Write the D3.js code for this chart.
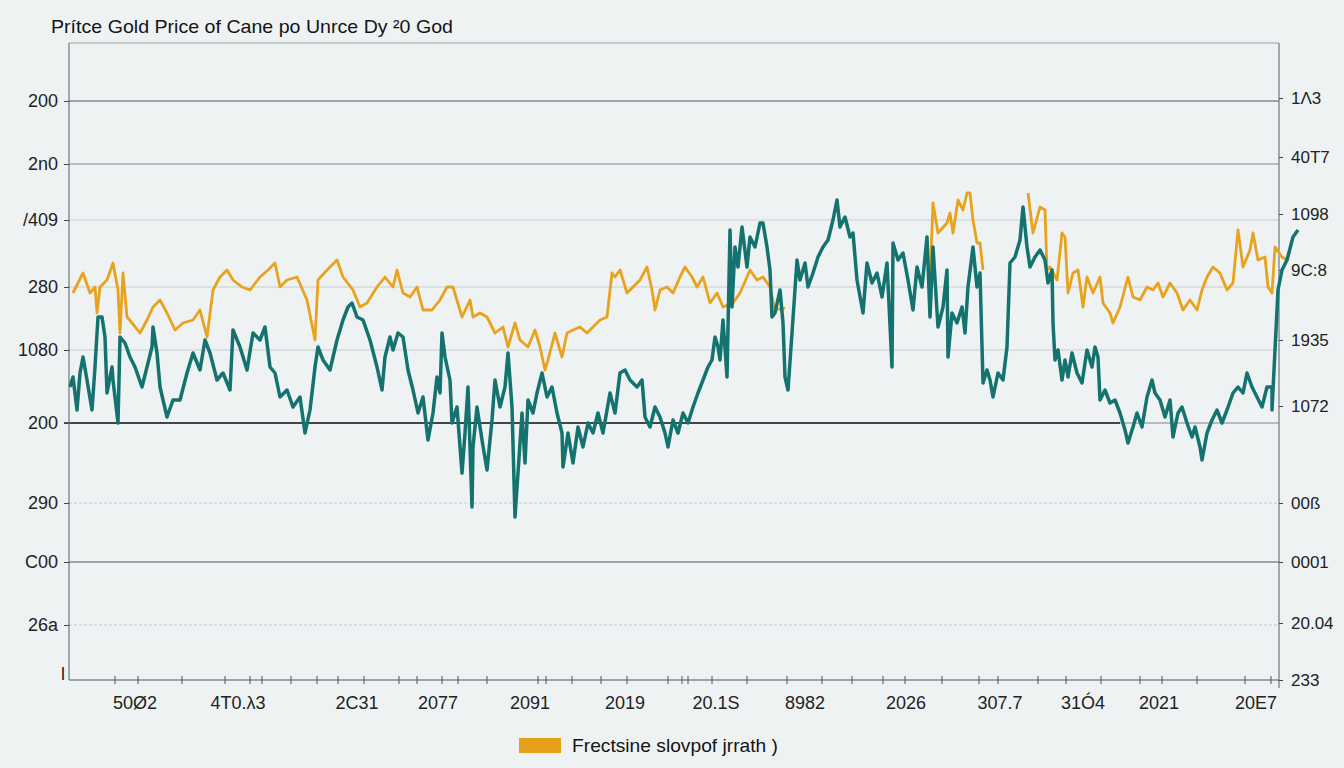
<!DOCTYPE html>
<html><head><meta charset="utf-8">
<script src="https://cdn.jsdelivr.net/npm/d3@7"></script>
<style>
html,body{margin:0;padding:0;background:#eef2f3;}
svg{display:block;font-family:"Liberation Sans",Arial,sans-serif;}
</style></head>
<body><svg id="c" width="1344" height="768"></svg>
<script>
// ---- data ----
const titleText = "Prítce Gold Price of Cane po Unrce Dy ²0 God";
const legendLabel = "Frectsine slovpof jrrath )";

// null marks a break where the series is not visible in the reference
const orangeT = [4,14,21,26,28,31,38,44,49,51,54,58,63,71,78,84,91,98,106,114,124,131,138,144,151,158,164,173,181,191,199,206,211,218,228,238,246,249,258,268,274,284,291,298,308,316,324,328,334,341,348,354,363,371,378,384,393,401,404,411,418,426,434,439,446,451,459,466,471,476,479,486,493,498,504,511,518,524,531,538,543,546,551,558,564,571,578,583,586,591,598,604,611,616,623,628,634,641,648,654,664,671,681,688,694,701,706,716,null,861,864,869,878,881,884,889,894,898,901,904,908,911,914,null,959,964,971,976,978,981,988,993,996,999,1004,1009,1014,1018,1024,1031,1034,1041,1044,1051,1059,1064,1071,1078,1084,1089,1094,1101,1108,1114,1121,1128,1133,1138,1144,1151,1158,1164,1169,1174,1181,1184,1189,1196,1199,1203,1206,1213,1218,1221];
const orangeV = [387,407,387,393,367,393,400,417,390,347,407,363,357,347,360,373,380,367,350,357,360,370,343,390,403,410,400,393,390,403,410,417,393,400,403,380,340,400,410,420,403,390,373,377,393,403,393,410,387,383,393,370,370,380,393,393,363,380,363,367,363,347,353,333,357,340,333,350,333,310,320,347,323,347,350,353,347,353,360,363,407,403,410,387,393,400,413,390,370,390,393,387,403,413,403,393,403,377,387,373,377,387,410,400,403,393,370,372,null,400,477,447,457,467,447,480,470,487,487,460,437,437,410,null,487,447,473,470,410,413,400,447,443,387,407,410,373,403,387,403,377,367,357,373,403,383,380,393,390,397,383,397,387,370,380,370,390,403,413,407,390,397,450,413,430,447,420,423,393,387,433,423,420,430];

const tealT = [1,4,8,11,14,18,23,26,29,33,36,38,43,44,49,51,56,61,66,73,78,83,84,88,91,98,104,111,118,124,131,136,141,148,154,161,164,171,178,184,191,196,201,206,211,218,224,231,236,241,246,249,254,261,268,274,279,283,288,294,301,308,313,316,321,324,329,334,339,344,349,354,359,364,368,371,373,376,381,383,388,393,396,399,403,404,408,413,418,423,426,431,436,439,443,446,449,453,456,459,464,468,473,478,483,488,493,494,499,504,509,514,519,524,529,534,541,546,551,556,561,568,573,576,581,586,591,596,599,604,609,614,619,624,629,634,639,643,646,649,651,654,658,661,663,666,669,673,678,681,686,691,694,698,701,703,706,711,714,716,719,723,728,731,736,739,744,749,754,759,764,768,771,776,781,784,788,794,798,803,808,813,818,823,824,829,834,839,844,848,853,858,861,864,869,874,878,879,883,888,893,896,899,904,908,911,914,918,921,924,929,934,938,941,946,951,954,958,961,966,971,976,979,983,984,986,989,993,996,999,1003,1008,1013,1018,1023,1026,1029,1031,1036,1041,1046,1051,1056,1059,1064,1068,1073,1078,1083,1086,1091,1096,1101,1104,1109,1113,1118,1123,1126,1131,1133,1138,1143,1148,1153,1158,1164,1169,1174,1178,1183,1188,1193,1198,1203,1203,1209,1213,1218,1224,1229];
const tealV = [293,303,270,307,323,300,270,313,363,363,343,287,313,300,257,343,337,323,313,293,313,333,353,327,293,263,280,280,307,327,310,340,327,300,307,290,350,333,310,347,340,353,313,307,283,290,273,283,247,270,313,333,320,310,340,360,373,377,363,360,340,313,290,323,343,330,347,343,310,290,267,283,240,267,303,287,347,323,300,257,273,207,247,293,173,233,273,240,210,260,300,273,293,327,273,163,207,267,217,280,267,287,307,283,293,267,247,213,247,217,253,233,257,247,267,247,287,267,307,310,300,293,300,263,253,273,263,247,233,260,247,267,257,273,287,300,313,320,343,333,320,360,303,450,373,433,413,453,413,443,433,457,457,433,410,363,367,390,357,303,290,347,420,400,417,393,407,423,433,440,460,480,453,463,443,447,400,367,417,397,407,383,417,313,437,420,427,400,370,413,393,443,363,433,353,373,410,323,367,357,373,347,393,433,393,407,297,310,300,283,307,300,333,417,423,440,473,433,413,423,430,420,397,410,357,320,330,300,320,303,327,307,297,330,313,333,323,280,290,277,280,267,250,237,253,267,253,283,300,287,280,263,280,243,267,273,257,243,253,233,220,247,260,270,257,270,287,293,287,307,293,283,273,293,293,270,390,410,420,443,450];

const leftTickVals   = [579,516,460,393,330,257,177,118,55];
const leftTickLabels = ["200","2n0","/409","280","1080","200","290","C00","26a"];
const rightTickVals   = [582,523,466,410,340,274,177,118,57,0];
const rightTickLabels = ["1Λ3","40T7","1098","9C:8","1935","1072","00ß","0001","20.04","233"];
const gridVals  = [579,516,460,393,330,257,177,118,55];
const gridKinds = ["dark","mid","light","light","light","mid","dash","dark","dash"];
const refLineVal = 257, refLineEnd = 1051;

const bottomLabelT = [66,169,288,369,461,556,647,736,837,931,1014,1090,1187];
const bottomLabels = ["50Ø2","4T0.λ3","2C31","2077","2091","2019","20.1S","8982","2026","307.7","31Ó4","2021","20E7"];
const bottomTickT = [46,69,113,156,181,193,222,248,269,295,330,348,373,389,418,469,477,503,532,558,599,613,619,643,678,718,753,783,814,836,873,910,929,969,997,1032,1071,1093,1128,1176,1202];

// ---- layout ----
const svg = d3.select("#c");
const L = 69, R = 1279, T = 43, B = 680;
const x = d3.scaleLinear().domain([0,1210]).range([L,R]);
const y = d3.scaleLinear().domain([0,637]).range([B,T]);

svg.append("rect").attr("width",1344).attr("height",768).attr("fill","#eef2f3");

// grid
const gridStyle = {dark:["#4a5560",1.2,null], mid:["#7d868d",1,null], light:["#c9ced2",1,null], dash:["#c2c7cb",1,"3,2"]};
svg.append("g").selectAll("line").data(gridVals).join("line")
  .attr("x1",L).attr("x2",R).attr("y1",d=>y(d)).attr("y2",d=>y(d))
  .attr("stroke",(d,i)=>gridStyle[gridKinds[i]][0])
  .attr("stroke-width",(d,i)=>gridStyle[gridKinds[i]][1])
  .attr("stroke-dasharray",(d,i)=>gridStyle[gridKinds[i]][2]);
svg.append("line").attr("x1",x(0)-5).attr("x2",x(refLineEnd))
  .attr("y1",y(refLineVal)).attr("y2",y(refLineVal))
  .attr("stroke","#1b1f22").attr("stroke-width",1.5);

// frame
svg.append("line").attr("x1",L).attr("x2",R).attr("y1",T).attr("y2",T).attr("stroke","#9aa1a6").attr("stroke-width",1.2);
svg.append("line").attr("x1",L).attr("x2",L).attr("y1",T).attr("y2",B).attr("stroke","#6f777d").attr("stroke-width",1.2);
svg.append("line").attr("x1",R).attr("x2",R).attr("y1",T).attr("y2",B+8).attr("stroke","#6f777d").attr("stroke-width",1.2);
svg.append("line").attr("x1",L).attr("x2",R).attr("y1",B).attr("y2",B).attr("stroke","#4d555b").attr("stroke-width",1.2);

// left axis
const yl = d3.axisLeft(y).tickValues(leftTickVals).tickFormat((d,i)=>leftTickLabels[i]).tickSize(5).tickPadding(6);
const gl = svg.append("g").attr("transform",`translate(${L},0)`).call(yl);
gl.select(".domain").remove();
gl.selectAll("line").attr("stroke","#444");
gl.selectAll("text").attr("font-size",18).attr("fill","#222");
svg.append("text").attr("x",L-4).attr("y",y(0)).attr("text-anchor","end").attr("font-size",18).attr("fill","#222").text("l");

// right axis
const yr = d3.axisRight(y).tickValues(rightTickVals).tickFormat((d,i)=>rightTickLabels[i]).tickSize(4).tickPadding(8);
const gr = svg.append("g").attr("transform",`translate(${R},0)`).call(yr);
gr.select(".domain").remove();
gr.selectAll("line").attr("stroke","#444");
gr.selectAll("text").attr("font-size",17).attr("fill","#222");

// bottom axis
svg.append("g").selectAll("line").data(bottomTickT).join("line")
  .attr("x1",d=>x(d)).attr("x2",d=>x(d)).attr("y1",B-4).attr("y2",B+4)
  .attr("stroke","#555").attr("stroke-width",1);
svg.append("g").selectAll("text").data(bottomLabelT).join("text")
  .attr("x",d=>x(d)).attr("y",B+29).attr("text-anchor","middle")
  .attr("font-size",18).attr("fill","#222").text((d,i)=>bottomLabels[i]);

// lines
const lineGen = (T_,V_) => d3.line().defined((d,i)=>V_[i]!==null && T_[i]!==null)
  .x((d,i)=>x(T_[i])).y((d,i)=>y(V_[i]))(V_);
svg.append("path").attr("d",lineGen(orangeT,orangeV)).attr("fill","none")
  .attr("stroke","#e9a21c").attr("stroke-width",2.8).attr("stroke-linejoin","round");
svg.append("path").attr("d",lineGen(tealT,tealV)).attr("fill","none")
  .attr("stroke","#14736f").attr("stroke-width",3.5).attr("stroke-linejoin","round");

// title
svg.append("text").attr("x",51).attr("y",33).attr("font-size",19)
  .attr("textLength",402).attr("lengthAdjust","spacingAndGlyphs")
  .attr("fill","#141414").text(titleText);

// legend
svg.append("rect").attr("x",519).attr("y",738).attr("width",42).attr("height",15).attr("fill","#e5a017");
svg.append("text").attr("x",572).attr("y",752).attr("font-size",19)
  .attr("textLength",206).attr("lengthAdjust","spacingAndGlyphs")
  .attr("fill","#141414").text(legendLabel);
</script></body></html>
